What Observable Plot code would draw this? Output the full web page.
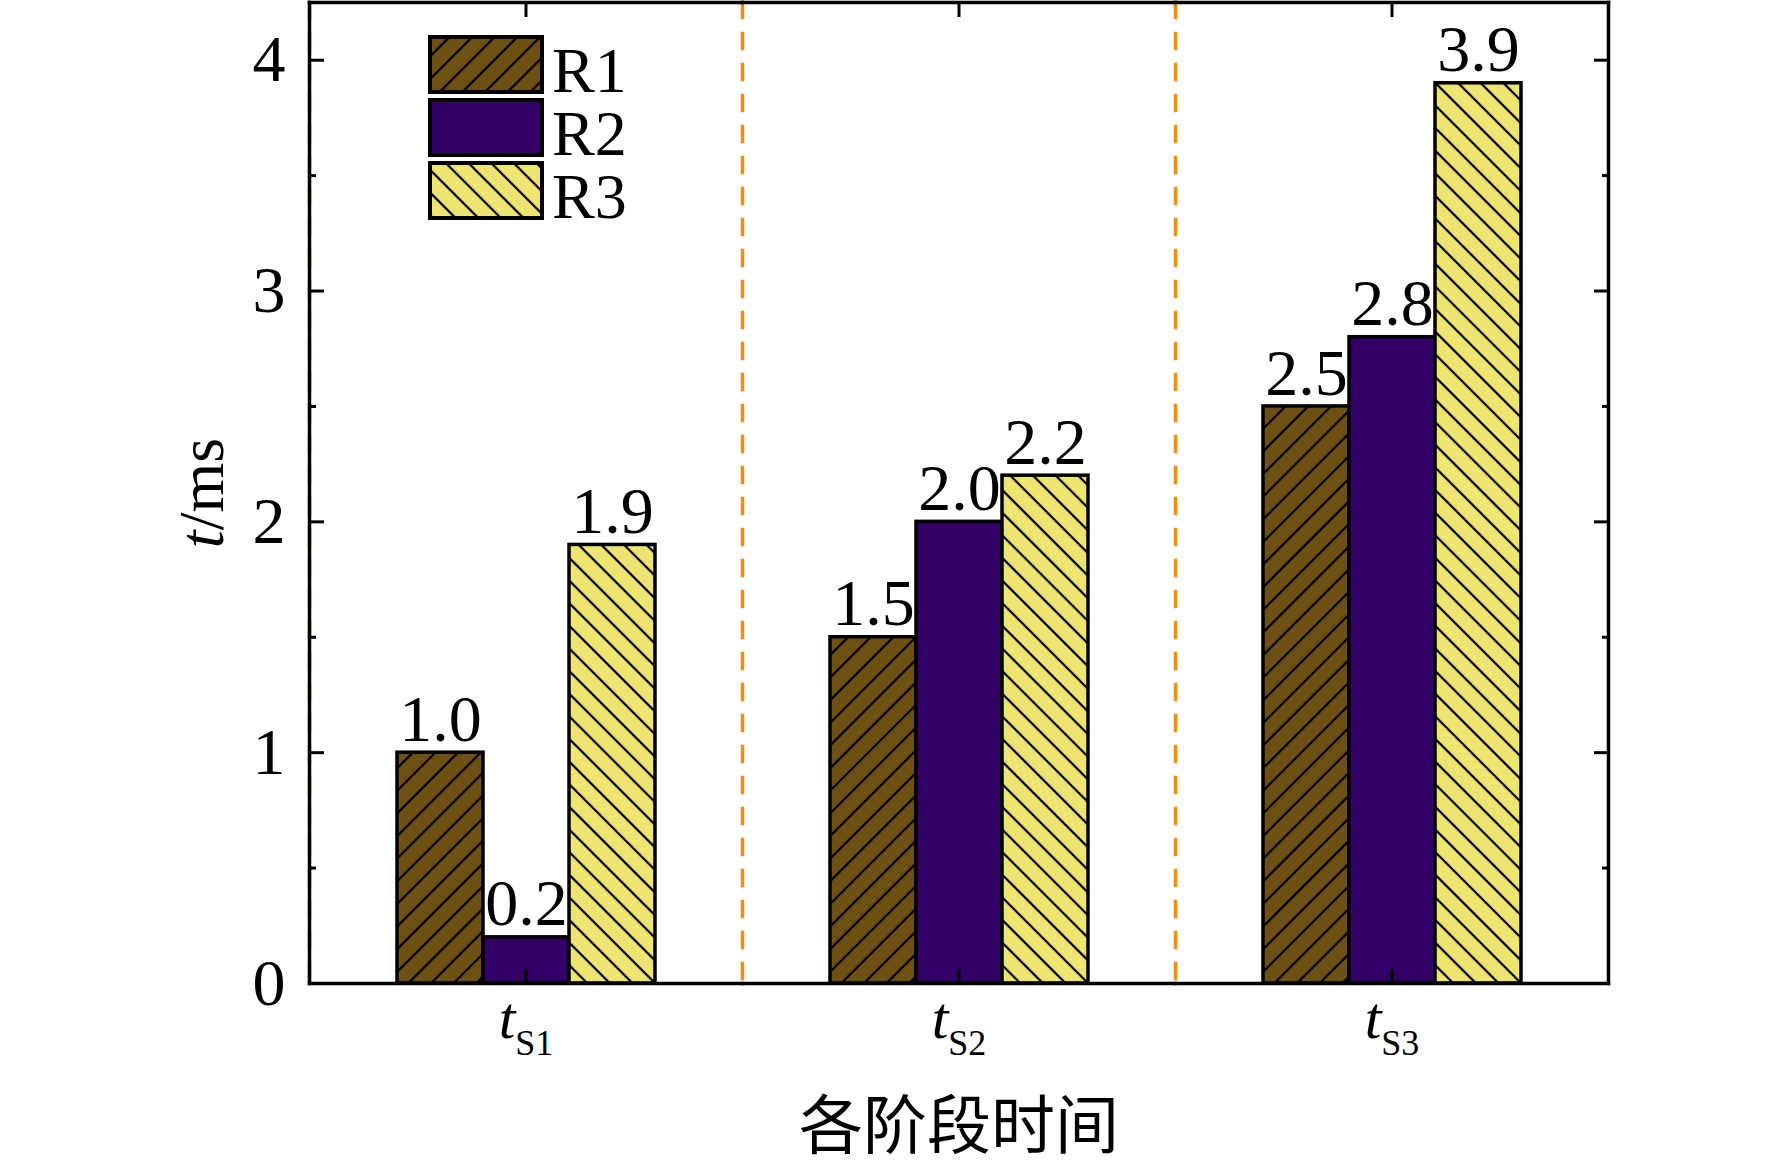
<!DOCTYPE html>
<html><head><meta charset="utf-8">
<script src="https://cdn.jsdelivr.net/npm/d3@7"></script>
<script src="https://cdn.jsdelivr.net/npm/@observablehq/plot@0.6"></script>
<style>
html,body{margin:0;padding:0;background:#fff;}
#wrap{position:relative;width:1772px;height:1173px;overflow:hidden;}
#wrap svg{display:block;}
</style></head><body>
<svg width="0" height="0" style="position:absolute">
  <defs>
    <pattern id="hatchR1" patternUnits="userSpaceOnUse" width="16" height="16" patternTransform="rotate(45)">
      <rect width="16" height="16" fill="#6e5014"/>
      <line x1="8" y1="-2" x2="8" y2="18" stroke="#000" stroke-width="2.2"/>
    </pattern>
    <pattern id="hatchR3" patternUnits="userSpaceOnUse" width="16" height="16" patternTransform="rotate(-45)">
      <rect width="16" height="16" fill="#ede472"/>
      <line x1="8" y1="-2" x2="8" y2="18" stroke="#000" stroke-width="2.2"/>
    </pattern>
  </defs>
</svg>
<div id="wrap"></div>
<script>
// ---- data ----
const stages = ["tS1", "tS2", "tS3"];
const stageSub = {tS1: "S1", tS2: "S2", tS3: "S3"};
const series = ["R1", "R2", "R3"];
const R1 = [1.0, 1.5, 2.5];
const R2 = [0.2, 2.0, 2.8];
const R3 = [1.9, 2.2, 3.9];
const yMajor = [0, 1, 2, 3, 4];
const yMinor = [0.5, 1.5, 2.5, 3.5];
const seriesFill = {R1: "url(#hatchR1)", R2: "#330066", R3: "url(#hatchR3)"};

const values = {R1, R2, R3};
const data = [];
stages.forEach((s, i) => series.forEach(r => data.push({stage: s, series: r, value: values[r][i]})));

const serif = "'Liberation Serif','Times New Roman',serif";
const SW = 3.5;

const chart = Plot.plot({
  width: 1772, height: 1173,
  marginLeft: 309, marginRight: 164, marginTop: 2, marginBottom: 190,
  style: {fontFamily: serif, background: "white", color: "#000"},
  fx: {domain: stages, padding: 0, axis: null},
  x: {domain: series, paddingInner: 0, paddingOuter: 1, axis: null},
  y: {domain: [0, 4.25], axis: null},
  color: {type: "identity"},
  marks: [
    Plot.frame({anchor: "left", stroke: "#ff8a00", strokeWidth: 3.5, strokeDasharray: "15 16"}),
    Plot.barY(data, {fx: "stage", x: "series", y: "value", fill: d => seriesFill[d.series], stroke: "#000", strokeWidth: SW}),
    Plot.text(data, {fx: "stage", x: "series", y: "value", text: d => d.value.toFixed(1), dy: -33, lineAnchor: "middle", fontSize: 66, fontFamily: serif}),
    Plot.frame({anchor: "left", facetAnchor: "left", strokeWidth: SW}),
    Plot.frame({anchor: "right", facetAnchor: "right", strokeWidth: SW}),
    Plot.frame({anchor: "top", strokeWidth: SW}),
    Plot.frame({anchor: "bottom", strokeWidth: SW}),
    // tick-only axes (inward ticks), fill:null suppresses tick text and label
    Plot.axisY({anchor: "left", ticks: yMajor, tickSize: 15, dx: 15, fill: null, label: null, stroke: "#000", strokeWidth: 3}),
    Plot.axisY({anchor: "left", ticks: yMinor, tickSize: 7, dx: 7, fill: null, label: null, stroke: "#000", strokeWidth: 3}),
    Plot.axisY({anchor: "right", ticks: yMajor, tickSize: 15, dx: -15, fill: null, label: null, stroke: "#000", strokeWidth: 3}),
    Plot.axisY({anchor: "right", ticks: yMinor, tickSize: 7, dx: -7, fill: null, label: null, stroke: "#000", strokeWidth: 3}),
    Plot.axisFx({anchor: "bottom", tickSize: 14, dy: -14, fill: null, label: null, stroke: "#000", strokeWidth: 3}),
    Plot.axisFx({anchor: "top", tickSize: 14, dy: 14, fill: null, label: null, stroke: "#000", strokeWidth: 3}),
    // labelled axes
    Plot.axisY({anchor: "left", ticks: yMajor, tickSize: 0, tickPadding: 24, fontSize: 66, tickFormat: d => String(d),
      label: "t/ms", labelAnchor: "center", labelOffset: 132}),
    Plot.axisFx({anchor: "bottom", tickSize: 0, tickPadding: 13, fontSize: 58, tickFormat: d => d,
      label: "各阶段时间", labelAnchor: "center", labelOffset: 164})
  ]
});

document.getElementById("wrap").appendChild(chart);
const svg = d3.select(chart);

// rich tick labels: italic t with subscript
svg.selectAll('g[aria-label="fx-axis tick label"] text').each(function () {
  const el = d3.select(this);
  const key = el.text();
  el.text(null);
  el.append("tspan").attr("font-style", "italic").attr("font-size", 60).text("t");
  el.append("tspan").attr("font-size", 36).attr("dy", 17).text(stageSub[key] || key);
});
svg.selectAll('g[aria-label="fx-axis label"] text')
  .attr("font-family", "'Noto Sans CJK SC', sans-serif").attr("font-size", 64);
svg.selectAll('g[aria-label="y-axis label"] text').each(function () {
  const el = d3.select(this);
  el.text(null).attr("font-size", 64);
  el.append("tspan").attr("font-style", "italic").text("t");
  el.append("tspan").text("/ms");
});

// legend overlay
const lg = d3.select("#wrap").append("svg")
  .attr("width", 1772).attr("height", 260)
  .style("position", "absolute").style("left", "0px").style("top", "0px")
  .style("pointer-events", "none");
const legendTop = [37, 100, 163];
series.forEach((r, i) => {
  lg.append("rect").attr("x", 430).attr("y", legendTop[i]).attr("width", 112).attr("height", 55)
    .attr("fill", seriesFill[r]).attr("stroke", "#000").attr("stroke-width", 4);
  lg.append("text").attr("x", 552).attr("y", legendTop[i] + 55)
    .attr("font-family", serif).attr("font-size", 64).attr("fill", "#000").text(r);
});
</script>
</body></html>
